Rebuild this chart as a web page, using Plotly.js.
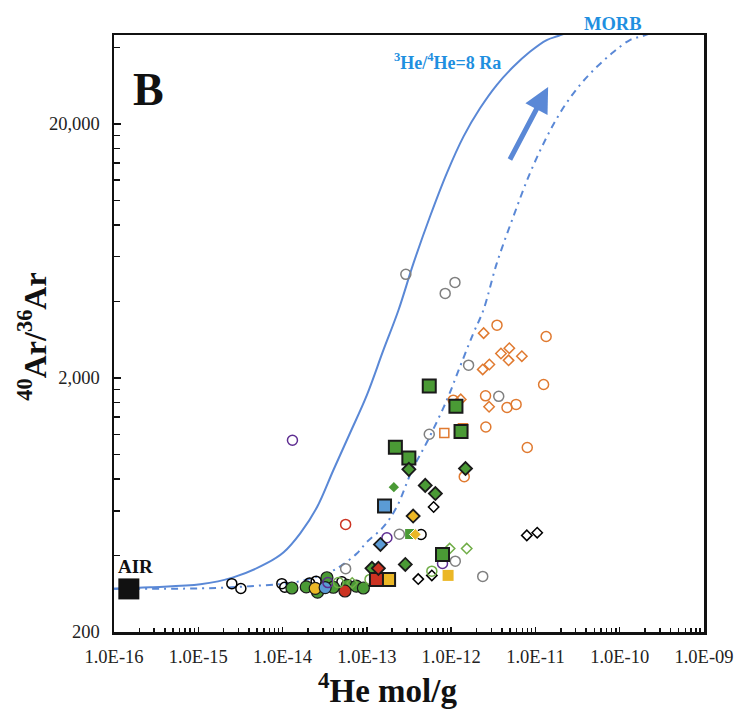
<!DOCTYPE html>
<html>
<head>
<meta charset="utf-8">
<script src="https://cdn.plot.ly/plotly-3.0.1.min.js"></script>
<style>
  html, body { margin: 0; padding: 0; background: #fff; }
  #chart { width: 739px; height: 712px; }
</style>
</head>
<body>
<div id="chart"></div>
<script>
// ---- Axis ticks ----
const xTickVals = [1e-16, 1e-15, 1e-14, 1e-13, 1e-12, 1e-11, 1e-10, 1e-9];
const xTickText = ['1.0E-16', '1.0E-15', '1.0E-14', '1.0E-13', '1.0E-12', '1.0E-11', '1.0E-10', '1.0E-09'];
const yTickVals = [200, 2000, 20000];
const yTickText = ['200', '2,000', '20,000'];

// ---- Mixing curves (air to mantle end-member) ----
const ra8He = [1e-16, 2.7e-16, 1.06e-15, 2.6e-15, 6.5e-15, 1.03e-14, 1.62e-14, 2.56e-14, 4.0e-14, 6.3e-14,
               1.0e-13, 1.57e-13, 2.37e-13, 3.56e-13, 5.6e-13, 8.87e-13, 1.40e-12, 2.2e-12, 3.47e-12,
               5.46e-12, 8.6e-12, 1.36e-11, 1.86e-11, 3e-11];
const ra8Ar = [296, 300, 308, 328, 373, 412, 489, 619, 866, 1211,
               1711, 2570, 3690, 5630, 8610, 12760, 17800, 23000, 28400,
               33500, 38400, 42700, 44300, 47000];

const morbHe = [1e-16, 1.06e-15, 4.14e-15, 1.48e-14, 3.67e-14, 5.28e-14, 7.6e-14, 1e-13, 1.57e-13, 2.26e-13,
                3.44e-13, 5.3e-13, 8.87e-13, 1.27e-12, 1.83e-12, 2.41e-12, 3.47e-12, 5.46e-12, 8.6e-12,
                1.37e-11, 2.12e-11, 3.37e-11, 5.36e-11, 8.5e-11, 1.32e-10, 1.88e-10, 3e-10];
const morbAr = [296, 297, 303, 315, 345, 370, 407, 452, 518, 621,
                866, 1137, 1633, 2208, 2990, 3690, 5630, 8610, 12760,
                17800, 23000, 28400, 33500, 38400, 42700, 44300, 47000];

// ---- Atmospheric end-member ----
const airHe = [1.5e-16];
const airAr = [295.5];

// ---- Samples ----
const blackCircleHe = [2.5e-15, 3.2e-15, 9.8e-15, 1.06e-14, 2.09e-14, 2.5e-14, 5.06e-14, 4.4e-13];
const blackCircleAr = [310, 296.6, 310, 300, 312, 317, 315, 484];

const greyCircleHe = [2.9e-13, 1.11e-12, 8.5e-13, 1.61e-12, 3.67e-12, 5.5e-13, 2.43e-13, 5.6e-14, 1.12e-12, 2.37e-12];
const greyCircleAr = [5110, 4750, 4300, 2244, 1692, 1200, 485, 355, 380, 331];

const orangeCircleHe = [3.5e-12, 1.34e-11, 1.25e-11, 1.06e-12, 2.56e-12, 4.6e-12, 5.9e-12, 2.58e-12, 8.0e-12, 1.43e-12];
const orangeCircleAr = [3225, 2911, 1884, 1634, 1700, 1529, 1573, 1282, 1064, 817];

const orangeDiamondHe = [2.43e-12, 4.9e-12, 3.9e-12, 4.8e-12, 6.9e-12, 2.84e-12, 2.37e-12, 1.30e-12, 2.82e-12];
const orangeDiamondAr = [3000, 2618, 2495, 2344, 2435, 2258, 2160, 1646, 1540];

const orangeSquareHe = [8.3e-13, 1.38e-12];
const orangeSquareAr = [1213, 1268];

const purpleCircleHe = [1.31e-14, 1.73e-13, 7.9e-13, 3.45e-14];
const purpleCircleAr = [1137, 470, 372, 313];

const redOpenCircleHe = [5.6e-14];
const redOpenCircleAr = [530];

const blackDiamondHe = [6.2e-13, 7.9e-12, 1.05e-11, 5.9e-13, 4.07e-13];
const blackDiamondAr = [621, 480, 492, 334, 323];

const limeDiamondHe = [9.6e-13, 1.53e-12, 6.7e-14];
const limeDiamondAr = [426, 426, 312];

const limeCircleHe = [5.9e-13, 1.09e-13, 4.6e-14];
const limeCircleAr = [347, 322, 313];

const greenCircleHe = [1.29e-14, 1.91e-14, 2.6e-14, 3.36e-14, 4.0e-14, 5.85e-14, 7.5e-14, 9.1e-14];
const greenCircleAr = [298, 301, 287, 327, 300, 305, 303, 298];

const yellowCircleHe = [2.44e-14];
const yellowCircleAr = [297];

const blueCircleHe = [3.2e-14];
const blueCircleAr = [299];

const redCircleHe = [5.5e-14];
const redCircleAr = [290];

const greenSquareHe = [5.5e-13, 1.14e-12, 1.31e-12, 2.18e-13, 3.15e-13, 7.9e-13];
const greenSquareAr = [1858, 1547, 1230, 1067, 968, 404];

const greenSquareSmallHe = [3.26e-13];
const greenSquareSmallAr = [486];

const greenDiamondHe = [3.15e-13, 1.48e-12, 4.93e-13, 6.5e-13, 2.86e-13, 1.15e-13];
const greenDiamondAr = [873, 880, 755, 701, 369, 356];

const greenDiamondSmallHe = [2.09e-13];
const greenDiamondSmallAr = [743];

const blueSquareHe = [1.62e-13];
const blueSquareAr = [627];

const blueDiamondHe = [1.45e-13];
const blueDiamondAr = [442];

const yellowDiamondHe = [3.54e-13];
const yellowDiamondAr = [572];

const yellowDiamondPlainHe = [3.76e-13];
const yellowDiamondPlainAr = [484];

const yellowSquareHe = [1.81e-13];
const yellowSquareAr = [322];

const yellowSquarePlainHe = [9.2e-13];
const yellowSquarePlainAr = [334];

const redSquareHe = [1.3e-13];
const redSquareAr = [322];

const redDiamondHe = [1.37e-13];
const redDiamondAr = [356];

// ---- Colours ----
const CURVE = '#5A88D6';
const LABEL_BLUE = '#1F8FE0';
const GREEN = '#4A9A35';
const LIME = '#70AD47';
const BLUE = '#5B9BD5';
const YELLOW = '#EBB726';
const RED = '#CC3322';
const ORANGE = '#E07A30';
const GREY = '#808080';
const PURPLE = '#5E2D91';
const INK = '#111';

function markers(name, he, ar, symbol, size, fill, lineColor, lineWidth) {
  return {
    type: 'scatter', mode: 'markers', name: name, x: he, y: ar,
    marker: { symbol: symbol, size: size, color: fill,
              line: { color: lineColor, width: lineWidth } },
    cliponaxis: false, hoverinfo: 'x+y'
  };
}

const traces = [
  { type: 'scatter', mode: 'lines', name: '3He/4He=8 Ra', x: ra8He, y: ra8Ar,
    line: { color: CURVE, width: 2, shape: 'spline', smoothing: 1 }, hoverinfo: 'skip' },
  { type: 'scatter', mode: 'lines', name: 'MORB', x: morbHe, y: morbAr,
    line: { color: CURVE, width: 2, shape: 'spline', smoothing: 1, dash: '7px,5px,2px,5px' }, hoverinfo: 'skip' },

  markers('open circle black', blackCircleHe, blackCircleAr, 'circle-open', 10, 'black', 'black', 1.5),
  markers('open circle grey', greyCircleHe, greyCircleAr, 'circle-open', 10, GREY, GREY, 1.5),
  markers('open circle orange', orangeCircleHe, orangeCircleAr, 'circle-open', 10, ORANGE, ORANGE, 1.5),
  markers('open diamond orange', orangeDiamondHe, orangeDiamondAr, 'diamond-open', 8, ORANGE, ORANGE, 1.5),
  markers('open square orange', orangeSquareHe, orangeSquareAr, 'square-open', 9, ORANGE, ORANGE, 1.5),
  markers('open circle red', redOpenCircleHe, redOpenCircleAr, 'circle-open', 10, RED, RED, 1.5),
  markers('open diamond black', blackDiamondHe, blackDiamondAr, 'diamond-open', 8, 'black', 'black', 1.5),

  markers('circle green', greenCircleHe, greenCircleAr, 'circle', 12, GREEN, '#1a1a1a', 1.2),
  markers('circle yellow', yellowCircleHe, yellowCircleAr, 'circle', 12, YELLOW, '#1a1a1a', 1.2),
  markers('circle blue', blueCircleHe, blueCircleAr, 'circle', 12, BLUE, '#1a1a1a', 1.2),
  markers('circle red', redCircleHe, redCircleAr, 'circle', 12, RED, '#1a1a1a', 1.2),

  markers('open circle purple', purpleCircleHe, purpleCircleAr, 'circle-open', 10, PURPLE, PURPLE, 1.5),
  markers('open circle lime', limeCircleHe, limeCircleAr, 'circle-open', 10, LIME, LIME, 1.5),
  markers('open diamond lime', limeDiamondHe, limeDiamondAr, 'diamond-open', 8, LIME, LIME, 1.5),

  markers('square green', greenSquareHe, greenSquareAr, 'square', 13, GREEN, '#1a1a1a', 2),
  markers('square green small', greenSquareSmallHe, greenSquareSmallAr, 'square', 10, GREEN, GREEN, 0),
  markers('diamond green', greenDiamondHe, greenDiamondAr, 'diamond', 10, GREEN, '#1a1a1a', 1.8),
  markers('diamond green small', greenDiamondSmallHe, greenDiamondSmallAr, 'diamond', 8, GREEN, GREEN, 0),
  markers('square blue', blueSquareHe, blueSquareAr, 'square', 13, BLUE, '#1a1a1a', 2),
  markers('diamond blue', blueDiamondHe, blueDiamondAr, 'diamond', 10, BLUE, '#1a1a1a', 1.8),
  markers('diamond yellow', yellowDiamondHe, yellowDiamondAr, 'diamond', 10, YELLOW, '#1a1a1a', 1.8),
  markers('diamond yellow plain', yellowDiamondPlainHe, yellowDiamondPlainAr, 'diamond', 9, YELLOW, 'white', 1),
  markers('square yellow', yellowSquareHe, yellowSquareAr, 'square', 13, YELLOW, '#1a1a1a', 2),
  markers('square yellow plain', yellowSquarePlainHe, yellowSquarePlainAr, 'square', 11, YELLOW, YELLOW, 0),
  markers('square red', redSquareHe, redSquareAr, 'square', 13, RED, '#1a1a1a', 2),
  markers('diamond red', redDiamondHe, redDiamondAr, 'diamond', 10, RED, '#1a1a1a', 1.8),

  markers('AIR', airHe, airAr, 'square', 21, INK, INK, 0)
];

// Minor ticks: 2..9 x each decade on x, multiples of the decade start on y
const xMinor = [];
for (let e = -16; e < -9; e++) {
  for (let k = 2; k <= 9; k++) xMinor.push(k * Math.pow(10, e));
}
const yMinor = [];
yTickVals.forEach(function (base) {
  for (let k = 2; k <= 9; k++) yMinor.push(k * base);
});

const SERIF = 'Liberation Serif, Times New Roman, serif';

const layout = {
  width: 739, height: 712,
  margin: { l: 114, r: 35, t: 35, b: 80 },
  paper_bgcolor: '#fff', plot_bgcolor: '#fff',
  showlegend: false,
  font: { family: SERIF, color: '#222' },
  xaxis: {
    type: 'log', range: [-16, -9],
    tickmode: 'array', tickvals: xTickVals, ticktext: xTickText,
    ticks: 'inside', ticklen: 5, tickwidth: 1.5, tickcolor: INK,
    tickfont: { family: SERIF, size: 18.5, color: '#222' },
    ticklabelstandoff: 6,
    minor: { tickmode: 'array', tickvals: xMinor, ticks: 'inside', ticklen: 4,
             tickwidth: 1.5, tickcolor: INK, showgrid: false },
    showline: true, linecolor: INK, linewidth: 2.5, mirror: true,
    showgrid: false, zeroline: false
  },
  yaxis: {
    type: 'log', range: [Math.log10(200), Math.log10(44700)],
    tickmode: 'array', tickvals: yTickVals, ticktext: yTickText,
    ticks: 'inside', ticklen: 7, tickwidth: 1.5, tickcolor: INK,
    tickfont: { family: SERIF, size: 18.5, color: '#222' },
    ticklabelstandoff: 8,
    minor: { tickmode: 'array', tickvals: yMinor, ticks: 'inside', ticklen: 6,
             tickwidth: 1.5, tickcolor: INK, showgrid: false },
    showline: true, linecolor: INK, linewidth: 2.5, mirror: true,
    showgrid: false, zeroline: false
  },
  annotations: [
    { xref: 'paper', yref: 'paper', x: 0.464, y: -0.093, text: '<b><sup>4</sup>He mol/g</b>', showarrow: false,
      xanchor: 'center', yanchor: 'middle', font: { family: SERIF, size: 33, color: INK } },
    { xref: 'paper', yref: 'paper', x: -0.138, y: 0.494, text: '<b><sup>40</sup>Ar/<sup>36</sup>Ar</b>', showarrow: false,
      textangle: -90, xanchor: 'center', yanchor: 'middle', font: { family: SERIF, size: 32, color: INK } },
    { xref: 'paper', yref: 'paper', x: 0.058, y: 0.908, text: '<b>B</b>', showarrow: false,
      xanchor: 'center', yanchor: 'middle', font: { family: SERIF, size: 46, color: INK } },
    { xref: 'paper', yref: 'paper', x: 0.0356, y: 0.110, text: '<b>AIR</b>', showarrow: false,
      xanchor: 'center', yanchor: 'middle', font: { family: SERIF, size: 19, color: INK } },
    { xref: 'paper', yref: 'paper', x: 0.566, y: 0.9555, text: '<b><sup>3</sup>He/<sup>4</sup>He=8 Ra</b>', showarrow: false,
      xanchor: 'center', yanchor: 'middle', font: { family: SERIF, size: 18, color: LABEL_BLUE } },
    { xref: 'paper', yref: 'paper', x: 0.846, y: 1.018, text: '<b>MORB</b>', showarrow: false,
      xanchor: 'center', yanchor: 'middle', font: { family: SERIF, size: 18.5, color: LABEL_BLUE } },
    { xref: 'paper', yref: 'paper', x: 0.7358, y: 0.9129, text: '', showarrow: true,
      axref: 'pixel', ayref: 'pixel', ax: -39, ay: 74,
      arrowhead: 2, arrowsize: 1, arrowwidth: 5, arrowcolor: CURVE, standoff: 0 }
  ]
};

Plotly.newPlot('chart', traces, layout, { staticPlot: true, displayModeBar: false });
</script>
</body>
</html>
